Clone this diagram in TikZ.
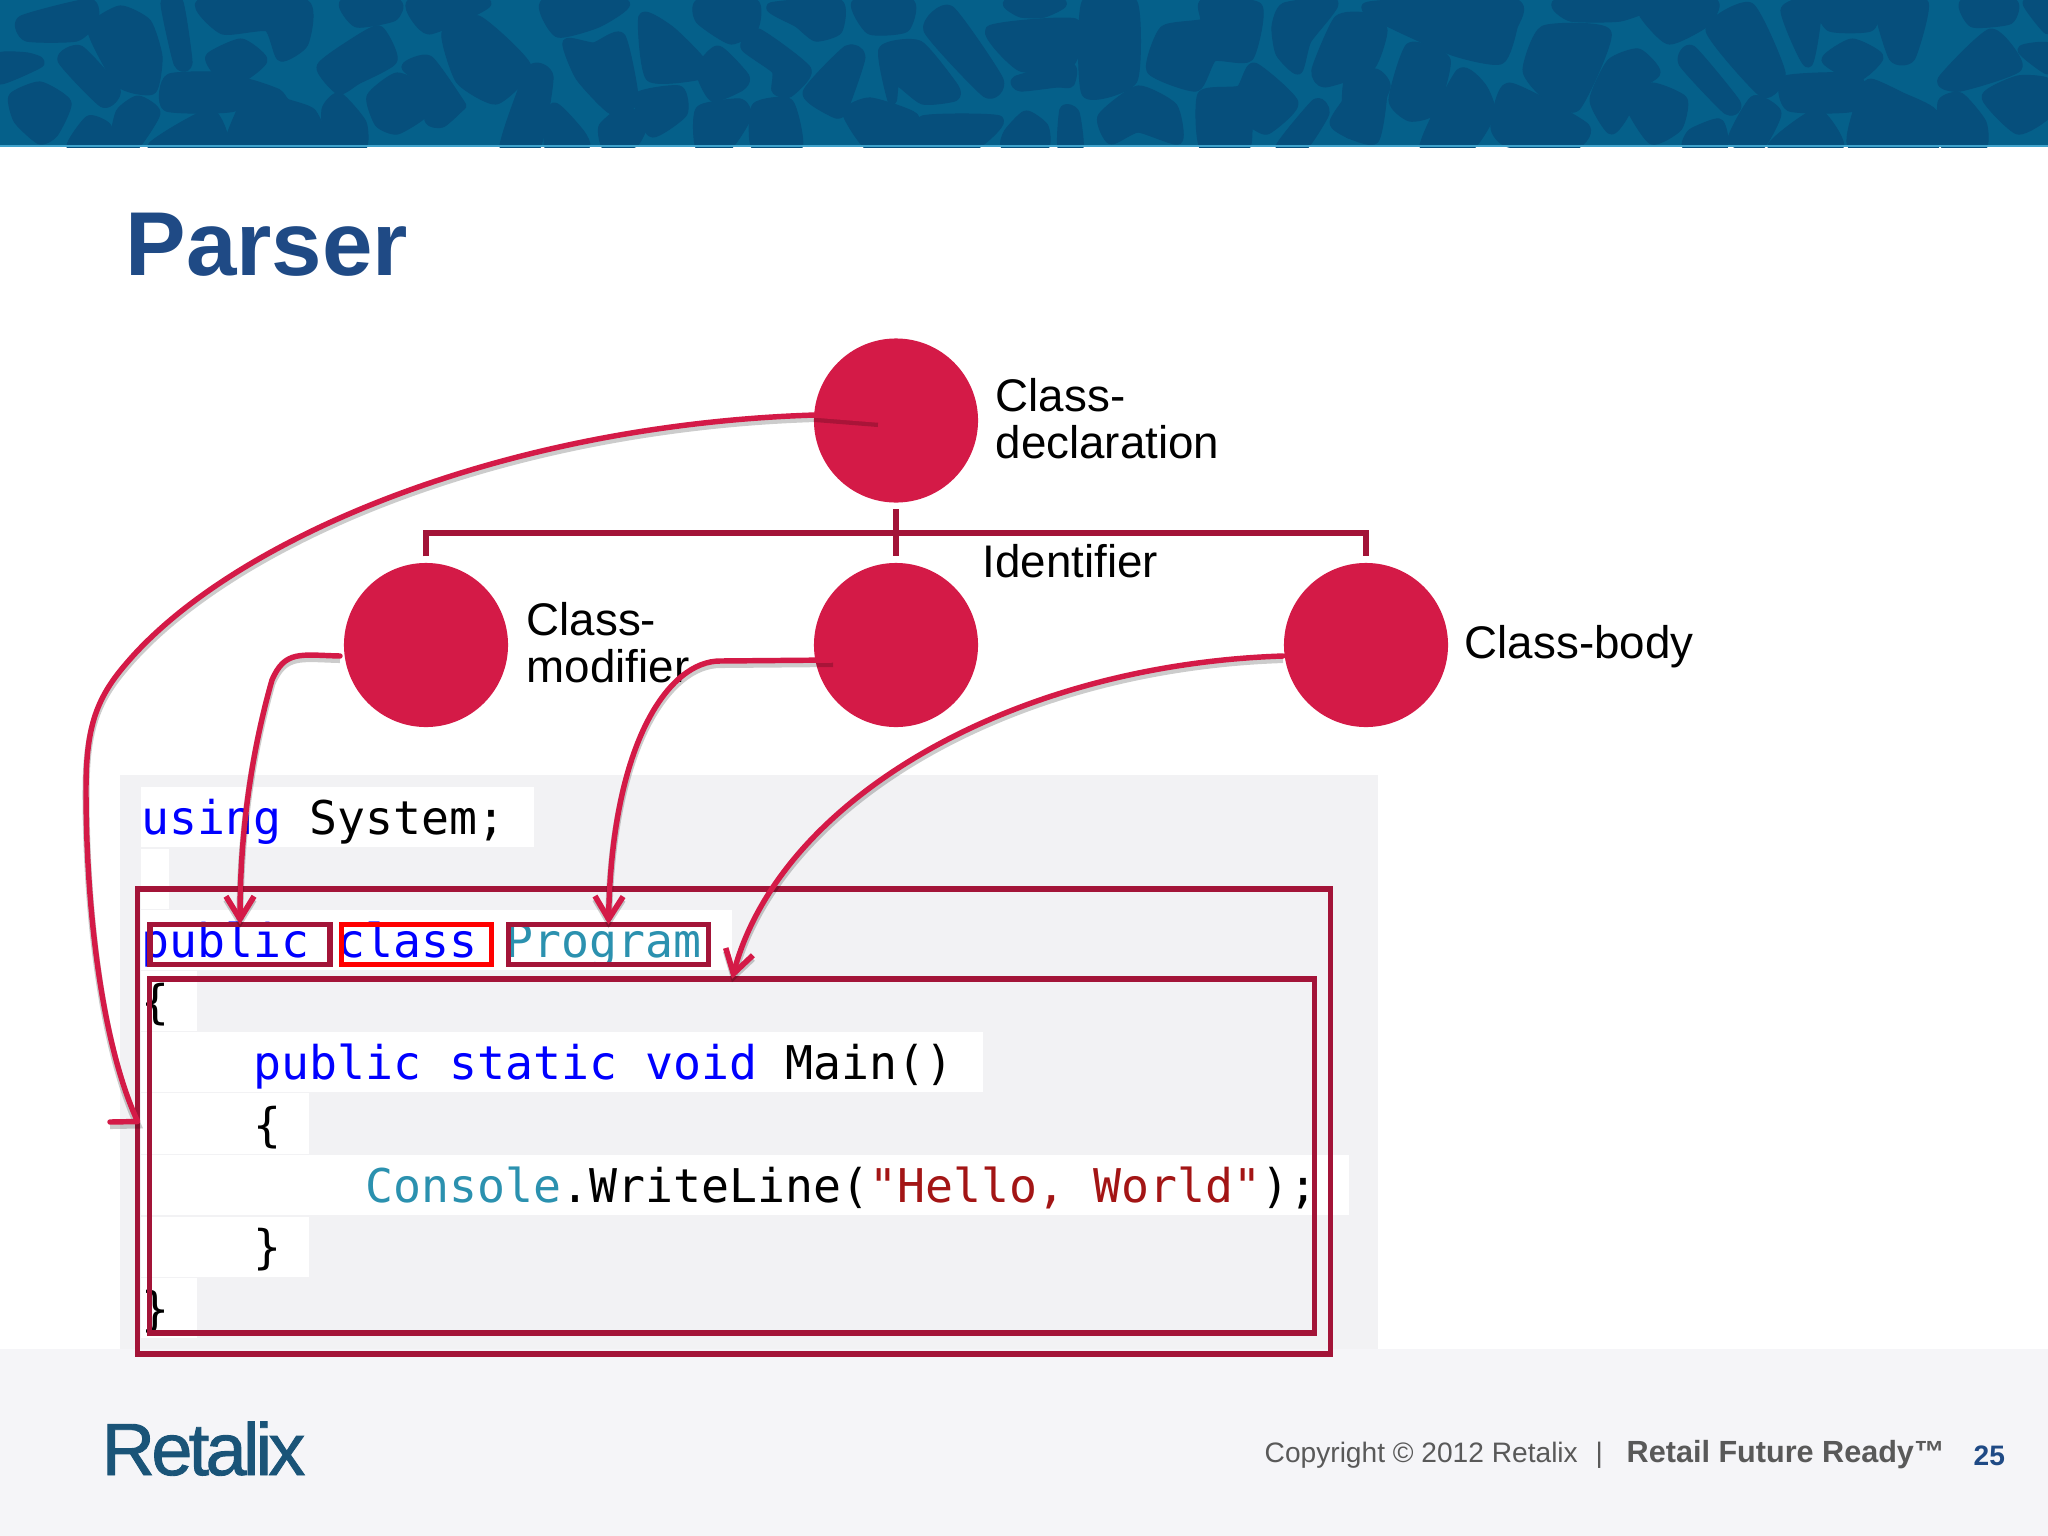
\documentclass[tikz,border=0pt]{standalone}
\usepackage{fontspec}
\setmainfont{Liberation Sans}
\setmonofont{DejaVu Sans Mono}
\newfontfamily\logofont[LetterSpace=-5,FakeBold=1.2]{Liberation Sans}
\usepackage{tikz}
\usetikzlibrary{arrows.meta}
\definecolor{bannerblue}{HTML}{05608A}
\definecolor{bannerdark}{HTML}{064F7C}
\definecolor{bannerline}{HTML}{3FA2CB}
\definecolor{footergray}{HTML}{F5F5F8}
\definecolor{panelgray}{HTML}{F2F2F4}
\definecolor{titleblue}{HTML}{1F4A85}
\definecolor{nodered}{HTML}{D41A47}
\definecolor{treered}{HTML}{A31438}
\definecolor{keyblue}{HTML}{0000FF}
\definecolor{typeteal}{HTML}{2B91AF}
\definecolor{stringred}{HTML}{A31515}
\definecolor{footertext}{HTML}{595959}
\definecolor{logoblue}{HTML}{1A5478}
\newcommand{\blob}[1]{\filldraw[draw=bannerdark,fill=bannerdark,line width=2.6pt,line join=round] plot[smooth cycle,tension=0.35] coordinates {#1};}
\newcommand{\kw}[1]{\textcolor{keyblue}{#1}}
\newcommand{\tp}[1]{\textcolor{typeteal}{#1}}
\newcommand{\st}[1]{\textcolor{stringred}{#1}}

\begin{document}
\begin{tikzpicture}[x=0.01cm,y=-0.01cm,
    treenode/.style={circle,fill=nodered,inner sep=0pt,minimum size=1.64cm},
    treelabel/.style={anchor=west,align=left,inner sep=0pt,font=\fontsize{13}{13.4}\selectfont},
    treeline/.style={draw=treered,line width=1.6pt,shorten <=1.7pt,shorten >=1.7pt},
    codeline/.style={anchor=base west,inner sep=0pt,font=\ttfamily\fontsize{13.22}{15}\selectfont},
    wordbox/.style={draw=treered,line width=1.6pt,inner sep=0pt,outer sep=0pt},
    arrowline/.style={draw=nodered,line width=1.55pt,line cap=round,line join=round,
        preaction={draw=black,draw opacity=0.2,line width=2pt,transform canvas={yshift=-1pt}}},
    arrowhead/.style={-{Straight Barb[length=6.5pt,width=8pt,line width=1.6pt]}},
    footerlabel/.style={anchor=base west,inner sep=0pt,text=footertext}]

    \useasboundingbox (0,0) rectangle (2048,1536);
    \fill[white] (0,0) rectangle (2048,1536);

    \begin{scope}
        \clip (0,0) rectangle (2048,147);
        \fill[bannerblue] (0,0) rectangle (2048,147);
        \blob{(22,20)(89,3)(94,20)(76,37)(27,37)}
        \blob{(92,30)(120,10)(147,23)(158,57)(152,90)(120,83)}
        \blob{(0,57)(27,57)(40,63)(0,80)}
        \blob{(62,60)(80,50)(116,90)(103,103)}
        \blob{(13,97)(40,86)(67,103)(54,133)(40,140)(18,120)}
        \blob{(165,3)(179,3)(188,63)(178,63)}
        \blob{(201,3)(304,3)(304,43)(281,57)(268,27)(223,30)}
        \blob{(210,57)(241,43)(263,60)(241,78)(219,73)}
        \blob{(170,78)(237,78)(234,107)(167,107)}
        \blob{(243,83)(277,93)(286,103)(312,113)(321,147)(232,147)(241,110)}
        \blob{(152,147)(210,113)(223,147)}
        \blob{(120,113)(138,100)(156,113)(134,147)(114,147)}
        \blob{(71,147)(89,120)(107,127)(107,147)}
        \blob{(326,110)(339,97)(362,123)(362,147)(330,147)}
        \blob{(321,67)(353,43)(379,30)(393,60)(357,80)(339,90)}
        \blob{(344,3)(397,3)(393,17)(357,23)}
        \blob{(371,97)(397,77)(424,90)(424,113)(397,130)(379,123)}
        \blob{(406,67)(429,60)(460,103)(460,107)(442,123)(429,120)(429,87)}
        \blob{(411,3)(487,3)(429,30)}
        \blob{(446,33)(478,20)(527,67)(496,100)(460,80)}
        \blob{(545,3)(625,3)(598,23)(558,33)}
        \blob{(504,147)(531,70)(549,77)(536,147)}
        \blob{(554,107)(580,133)(585,147)(549,147)}
        \blob{(567,43)(594,47)(621,37)(634,100)(612,110)(580,77)}
        \blob{(643,17)(670,30)(700,60)(700,75)(650,77)}
        \blob{(638,97)(679,90)(683,113)(652,133)}
        \blob{(603,127)(625,110)(643,123)(634,143)(607,147)}
        \blob{(700,3)(754,3)(754,27)(731,40)(700,20)}
        \blob{(745,47)(758,33)(807,70)(789,93)(776,90)(776,70)}
        \blob{(700,70)(718,50)(745,77)(740,87)(713,97)}
        \blob{(771,7)(838,3)(838,30)(816,37)(798,23)}
        \blob{(856,3)(910,3)(905,28)(870,30)}
        \blob{(807,93)(847,50)(861,57)(843,110)(834,113)}
        \blob{(883,50)(919,45)(954,87)(954,97)(923,100)(896,80)(892,100)}
        \blob{(928,30)(950,10)(999,80)(986,93)}
        \blob{(990,30)(1075,23)(1070,63)(1021,67)}
        \blob{(1017,80)(1070,67)(1070,83)(1057,83)(1021,87)}
        \blob{(1008,3)(1062,3)(1044,13)(1021,13)}
        \blob{(1086,3)(1133,3)(1133,80)(1086,93)}
        \blob{(1164,30)(1204,23)(1204,3)(1258,7)(1249,57)(1213,57)(1196,87)(1151,70)}
        \blob{(700,110)(740,103)(747,117)(727,147)(700,147)}
        \blob{(756,107)(789,103)(798,147)(756,147)}
        \blob{(847,113)(870,102)(914,117)(914,147)(870,147)}
        \blob{(923,120)(999,120)(972,147)(923,147)}
        \blob{(1008,133)(1026,115)(1044,127)(1044,147)(1006,147)}
        \blob{(1064,110)(1075,113)(1079,147)(1062,147)}
        \blob{(1102,117)(1138,90)(1173,107)(1178,140)(1138,128)(1111,140)}
        \blob{(1202,95)(1240,90)(1254,67)(1294,103)(1267,130)(1249,123)(1245,147)(1204,147)}
        \blob{(1280,147)(1316,103)(1325,113)(1303,147)}
        \blob{(1334,123)(1370,75)(1383,87)(1374,140)}
        \blob{(1276,27)(1285,7)(1334,3)(1307,40)(1298,70)(1280,53)}
        \blob{(1316,70)(1338,20)(1365,17)(1383,30)(1370,67)(1325,83)}
        \blob{(1366,7)(1513,3)(1513,27)(1500,60)(1450,50)}
        \blob{(1393,100)(1410,47)(1446,60)(1433,110)(1410,117)}
        \blob{(1348,83)(1375,73)(1386,87)(1366,127)(1348,133)}
        \blob{(1424,147)(1460,73)(1482,87)(1491,113)(1469,147)}
        \blob{(1495,127)(1509,87)(1585,127)(1571,147)(1509,143)}
        \blob{(1527,70)(1544,30)(1607,33)(1576,107)(1544,93)}
        \blob{(1558,3)(1652,3)(1620,17)(1571,17)}
        \blob{(1643,13)(1660,3)(1714,3)(1705,23)(1669,40)}
        \blob{(1594,100)(1611,63)(1638,53)(1656,73)(1625,93)(1625,113)(1611,130)}
        \blob{(1629,103)(1652,87)(1683,100)(1678,127)(1652,140)}
        \blob{(1683,63)(1692,50)(1736,103)(1727,110)}
        \blob{(1710,30)(1750,7)(1781,73)(1763,93)}
        \blob{(1785,10)(1817,3)(1808,63)}
        \blob{(1821,3)(1875,3)(1870,27)(1830,27)}
        \blob{(1879,3)(1924,3)(1911,57)(1893,57)}
        \blob{(1826,60)(1852,43)(1879,57)(1857,77)}
        \blob{(1786,80)(1857,78)(1853,107)(1790,107)}
        \blob{(1861,100)(1870,83)(1902,97)(1933,113)(1933,147)(1853,147)}
        \blob{(1772,147)(1817,113)(1839,147)}
        \blob{(1732,140)(1754,100)(1777,113)(1759,147)}
        \blob{(1692,133)(1719,123)(1723,147)(1687,147)}
        \blob{(1942,103)(1960,97)(1982,123)(1982,147)(1946,147)}
        \blob{(1942,80)(1991,33)(2018,67)(1960,87)}
        \blob{(1986,97)(2018,80)(2048,83)(2048,113)(2018,130)}
        \blob{(1964,3)(2013,3)(2009,20)(1973,23)}
        \blob{(2022,50)(2048,47)(2048,70)}
        \blob{(2027,3)(2048,3)(2048,30)}
    \end{scope}
    \fill[bannerline] (0,145) rectangle (2048,147);

    \fill[footergray] (0,1349) rectangle (2048,1536);
    \fill[panelgray] (120,775) rectangle (1378,1349);

    \fill[white] (141,787) rectangle (534,847);
    \fill[white] (141,849) rectangle (169,909);
    \fill[white] (141,910) rectangle (732,970);
    \fill[white] (141,971) rectangle (197,1031);
    \fill[white] (141,1032) rectangle (983,1092);
    \fill[white] (141,1093) rectangle (309,1154);
    \fill[white] (141,1155) rectangle (1349,1215);
    \fill[white] (141,1217) rectangle (309,1277);
    \fill[white] (141,1278) rectangle (197,1338);

    \node[anchor=base west,inner sep=0pt,text=titleblue,font=\bfseries\fontsize{25.8}{30}\selectfont] (title) at (125,275) {Parser};

    \node[codeline] (lineusing) at (141,834) {\kw{using} System;};
    \node[codeline] (lineclass) at (141,957) {\kw{public} \kw{class} \tp{Program}};
    \node[codeline] (lineopen) at (141,1018) {\{};
    \node[codeline] (linemain) at (253,1079) {\kw{public} \kw{static} \kw{void} Main()};
    \node[codeline] (lineinner) at (253,1141) {\{};
    \node[codeline] (lineconsole) at (365,1202) {\tp{Console}.WriteLine(\st{"Hello, World"});};
    \node[codeline] (lineshut) at (253,1263) {\}};
    \node[codeline] (lineend) at (141,1325) {\}};

    \node[wordbox,minimum width=1.8cm,minimum height=0.4cm] (publicbox) at (240,944.5) {};
    \node[wordbox,draw=red,minimum width=1.5cm,minimum height=0.4cm] (classbox) at (416.5,944.5) {};
    \node[wordbox,minimum width=2cm,minimum height=0.4cm] (programbox) at (608.5,944.5) {};
    \node[wordbox,minimum width=11.64cm,minimum height=3.54cm] (bodybox) at (732,1156) {};
    \node[wordbox,minimum width=11.92cm,minimum height=4.65cm] (outerbox) at (734,1121.5) {};

    \node[treenode] (classdecl) at (896,420.5) {};
    \node[treenode] (classmod) at (426,645) {};
    \node[treenode] (ident) at (896,645) {};
    \node[treenode] (classbody) at (1366,645) {};

    \node[treelabel] (decllabel) at (995,419) {Class-\\declaration};
    \node[treelabel] (modlabel) at (526,643) {Class-\\modifier};
    \node[treelabel] (identlabel) at (982,561) {Identifier};
    \node[treelabel] (bodylabel) at (1464,647) {Class-body};

    \coordinate (treebar) at (896,533);
    \draw[treeline] (classmod.north) |- (treebar) -| (classbody.north);
    \draw[treeline] (classdecl.south) -- (ident.north);

    \coordinate (declstart) at (878,420);
    \coordinate (declbend) at (815,415);
    \coordinate (declarc) at (125,665);
    \coordinate (declside) at (86,790);
    \coordinate (declbarb) at (110,1122);
    \coordinate (modstart) at (340,656);
    \coordinate (identstart) at (833,660);
    \coordinate (bodystart) at (1283,656);

    \draw[arrowline] (declstart) -- (declbend) .. controls (500,425) and (230,540) .. (declarc)
        .. controls (95,700) and (86,730) .. (declside)
        .. controls (86,900) and (100,1040) .. (outerbox.west) -- (declbarb);
    \draw[arrowline,arrowhead] (modstart) .. controls (300,655) and (285,650) .. (272,680)
        .. controls (255,740) and (240,820) .. (publicbox.north);
    \draw[arrowline,arrowhead] (identstart) -- (720,661) .. controls (670,661) and (612,740) .. (programbox.north);
    \draw[arrowline,arrowhead] (bodystart) .. controls (1010,665) and (780,800) .. (bodybox.north);

    \node[anchor=base west,inner sep=0pt,text=logoblue,font=\logofont\fontsize{21}{24}\selectfont] (logo) at (101,1475) {Retalix};
    \node[footerlabel,font=\fontsize{8}{10}\selectfont] (copyright) at (1264,1462) {Copyright © 2012 Retalix};
    \node[footerlabel,font=\fontsize{8}{10}\selectfont] (footerbar) at (1595,1462) {|};
    \node[footerlabel,font=\bfseries\fontsize{8.7}{10}\selectfont] (slogan) at (1626,1462) {Retail Future Ready™};
    \node[footerlabel,text=titleblue,font=\bfseries\fontsize{8}{10}\selectfont] (pagenum) at (1973,1465) {25};
\end{tikzpicture}
\end{document}
